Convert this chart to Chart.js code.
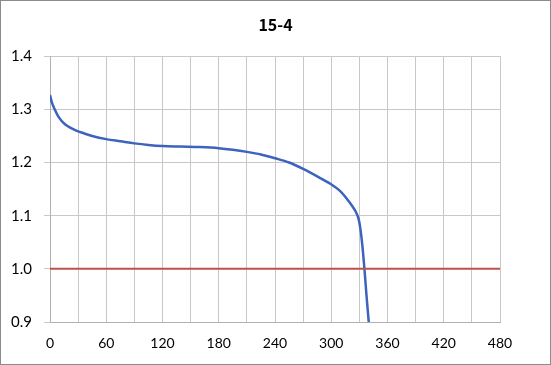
<!DOCTYPE html>
<html>
<head>
<meta charset="utf-8">
<script src="https://cdn.jsdelivr.net/npm/chart.js@4"></script>
<style>
  body { margin: 0; background: #fff; }
  #box { width: 551px; height: 365px; box-sizing: border-box; border: 1px solid #8c8c8c; }
  #wrap { position: relative; width: 549px; height: 363px; }
</style>
</head>
<body>
<div id="box"><div id="wrap"><canvas id="myChart"></canvas></div></div>
<script>
// time (x) and voltage (y)
var timeVals = [0, 2, 5, 8, 12, 16, 21, 28, 36, 45, 60, 75, 90, 105, 120, 139, 160, 180, 195, 210,
  225, 240, 255, 270, 285, 299, 309, 317, 322, 326, 329.3, 331, 333, 335.4, 337.5, 340];
var voltVals = [1.327, 1.313, 1.300, 1.289, 1.279, 1.272, 1.266, 1.260, 1.255, 1.250, 1.244, 1.240,
  1.236, 1.233, 1.231, 1.230, 1.229, 1.227, 1.224, 1.220, 1.215, 1.208, 1.200, 1.188, 1.174, 1.160,
  1.147, 1.131, 1.119, 1.108, 1.093, 1.076, 1.047, 1.000, 0.952, 0.900];
var cutoffX = [0, 480];
var cutoffY = [1.0, 1.0];
var chartTitle = "15-4";

window.onload = function () {
  var pts = timeVals.map(function (t, i) { return { x: t, y: voltVals[i] }; });
  var cut = cutoffX.map(function (t, i) { return { x: t, y: cutoffY[i] }; });
  var ctx = document.getElementById("myChart").getContext("2d");
  var myChart = new Chart(ctx, {
    type: "line",
    data: {
      datasets: [
        {
          label: "cutoff",
          data: cut,
          borderColor: "#c0504d",
          borderWidth: 2,
          pointRadius: 0,
        },
        {
          label: "15-4",
          data: pts,
          borderColor: "#3d63be",
          borderWidth: 2.5,
          pointRadius: 0,
          cubicInterpolationMode: "monotone",
        },
      ],
    },
    options: {
      responsive: true,
      maintainAspectRatio: false,
      animation: false,
      layout: { padding: 0 },
      plugins: {
        legend: { display: false },
        tooltip: { enabled: false },
        title: {
          display: true,
          text: chartTitle,
          color: "#000",
          font: { family: "Noto Sans CJK JP", size: 16, weight: "bold" },
          padding: { top: 14, bottom: 22 },
        },
      },
      scales: {
        x: {
          type: "linear",
          min: 0,
          max: 480,
          grid: { color: "#c8c8c8", drawTicks: false },
          border: { color: "#b0b0b0" },
          ticks: {
            stepSize: 30,
            autoSkip: false,
            maxRotation: 0,
            padding: 13,
            color: "#000",
            font: { family: "Lato", size: 14 },
            callback: function (v) { return v % 60 === 0 ? String(v) : ""; },
          },
          afterFit: function (s) { s.height = 42; },
        },
        y: {
          min: 0.9,
          max: 1.4,
          grid: { color: "#c8c8c8", tickLength: 6 },
          border: { color: "#b0b0b0" },
          ticks: {
            stepSize: 0.1,
            padding: 12,
            color: "#000",
            font: { family: "Lato", size: 15 },
            callback: function (v) { return v.toFixed(1); },
          },
          afterFit: function (s) { s.width = 49; },
        },
        // empty right axis, only keeps the margin on the right
        yRight: {
          position: "right",
          min: 0.9,
          max: 1.4,
          grid: { display: false, drawTicks: false },
          border: { display: false },
          ticks: { display: false },
          afterFit: function (s) { s.width = 50; },
        },
      },
    },
  });
};
</script>
</body>
</html>
